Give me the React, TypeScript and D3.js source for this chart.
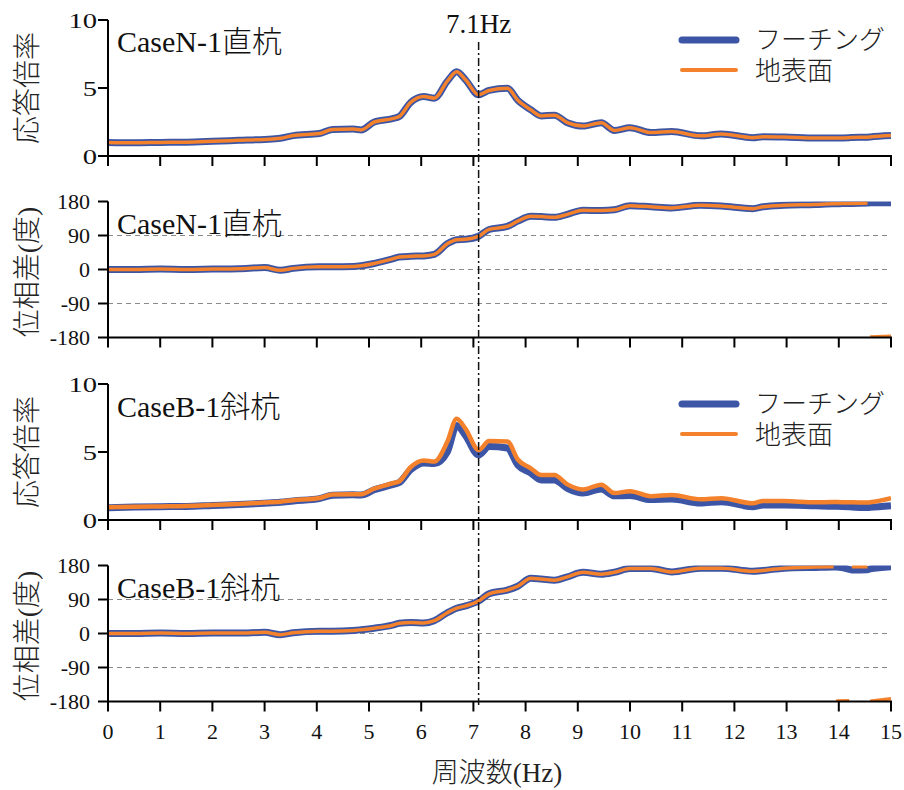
import React from "react";
import * as d3 from "d3";

// ---------- data ----------
const freq = [0, 0.5, 1, 1.5, 2, 2.5, 3, 3.3, 3.55, 4.05, 4.3, 4.7, 4.85, 5.1, 5.45, 5.58, 5.8, 6.05, 6.25, 6.5, 6.68, 6.85, 7.1, 7.3, 7.65, 7.85, 8.1, 8.3, 8.55, 8.8, 9.1, 9.45, 9.7, 10.0, 10.4, 10.8, 11.35, 11.75, 12.35, 12.55, 12.95, 13.55, 13.9, 13.95, 14.2, 14.25, 14.55, 14.6, 15];

const ampN_footing = [1.0, 0.97, 1.0, 1.02, 1.08, 1.15, 1.22, 1.3, 1.5, 1.65, 1.95, 1.98, 1.92, 2.5, 2.75, 2.9, 3.95, 4.38, 4.25, 5.5, 6.2, 5.6, 4.5, 4.82, 4.98, 4.1, 3.4, 2.95, 3.0, 2.45, 2.2, 2.45, 1.88, 2.08, 1.72, 1.8, 1.48, 1.62, 1.35, 1.42, 1.4, 1.32, 1.33, 1.33, 1.35, 1.36, 1.38, 1.4, 1.5];
const ampN_ground = [1.0, 0.97, 1.0, 1.02, 1.08, 1.15, 1.22, 1.3, 1.5, 1.65, 1.95, 1.98, 1.92, 2.5, 2.75, 2.9, 3.95, 4.38, 4.25, 5.5, 6.2, 5.6, 4.5, 4.82, 4.98, 4.1, 3.4, 2.95, 3.0, 2.45, 2.2, 2.45, 1.88, 2.08, 1.72, 1.8, 1.48, 1.62, 1.35, 1.42, 1.4, 1.32, 1.33, 1.33, 1.35, 1.36, 1.38, 1.4, 1.5];

const phaseN_footing = [0, 0, 1, 0, 1, 2, 5, -2, 3, 7, 7, 8, 10, 16, 28, 33, 35, 36, 40, 68, 79, 80, 88, 106, 114, 128, 141, 140, 138, 146, 157, 156, 158, 169, 166, 163, 170, 168, 161, 166, 170, 172, 174, 174, 175, 175, 176, 176.5, 177];
const phaseN_ground = [0, 0, 1, 0, 1, 2, 5, -2, 3, 7, 7, 8, 10, 16, 28, 33, 35, 36, 40, 68, 79, 80, 88, 106, 114, 128, 141, 140, 138, 146, 157, 156, 158, 169, 166, 163, 170, 168, 161, 166, 170, 172, 174, 174, 175, 175, 176, -179, -177];

const ampB_footing = [0.9, 0.95, 0.98, 1.0, 1.07, 1.14, 1.23, 1.3, 1.4, 1.57, 1.82, 1.85, 1.84, 2.22, 2.6, 2.75, 3.7, 4.2, 4.15, 5.0, 6.95, 6.2, 4.78, 5.4, 5.3, 4.05, 3.45, 2.95, 2.95, 2.33, 1.98, 2.28, 1.78, 1.8, 1.5, 1.55, 1.25, 1.35, 0.98, 1.1, 1.1, 1.05, 1.02, 1.02, 0.98, 0.96, 0.92, 0.93, 1.05];
const ampB_ground = [0.93, 0.97, 1.0, 1.03, 1.1, 1.18, 1.28, 1.35, 1.45, 1.62, 1.88, 1.9, 1.9, 2.3, 2.7, 2.85, 3.9, 4.38, 4.3, 5.75, 7.45, 6.7, 5.15, 5.8, 5.78, 4.45, 3.8, 3.3, 3.3, 2.62, 2.25, 2.6, 1.98, 2.12, 1.75, 1.84, 1.52, 1.6, 1.23, 1.4, 1.4, 1.3, 1.32, 1.32, 1.3, 1.3, 1.28, 1.3, 1.6];

const phaseB_footing = [0, 0, 1, 0, 1, 1, 3, -3, 2, 6, 6, 8, 10, 14, 22, 27, 29, 28, 34, 55, 67, 73, 86, 105, 115, 125, 146, 144, 141, 150, 162, 157, 162, 172, 172, 163, 173, 173, 165, 167, 173, 175, 176, 176, 170, 168, 169, 171, 177];
const phaseB_ground = [0, 0, 1, 0, 1, 1, 3, -3, 2, 6, 6, 8, 10, 14, 22, 27, 29, 28, 34, 55, 67, 73, 86, 105, 115, 125, 146, 144, 141, 150, 162, 157, 162, 172, 172, 163, 173, 173, 165, 167, 173, 176, 177, -179, -178, 177, 177, -179, -173];

const xTicks = d3.range(0, 16);
const ampTicks = [0, 5, 10];
const phaseTicks = [-180, -90, 0, 90, 180];
const phaseGrid = [-90, 0, 90];
const seriesNames = ["フーチング", "地表面"];
const caseLabels = ["CaseN-1直杭", "CaseB-1斜杭"];
const ampTitle = "応答倍率";
const phaseTitle = "位相差(度)";
const xTitle = "周波数(Hz)";
const markFreq = 7.1;
const markLabel = "7.1Hz";

// ---------- style ----------
const BLUE = "#3c55a5";
const ORANGE = "#f4822c";
const FONT = "'Liberation Serif', 'Noto Sans CJK JP', serif";

const x = d3.scaleLinear().domain([0, 15]).range([108, 891]);

type Panel = {
  key: string;
  kind: "amp" | "phase";
  top: number;
  bottom: number;
  footing: number[];
  ground: number[];
  label: string;
  labelY: number;
  legend: boolean;
  titleY: number;
  xLabels: boolean;
};

const panels: Panel[] = [
  { key: "p1", kind: "amp", top: 20, bottom: 156, footing: ampN_footing, ground: ampN_ground, label: caseLabels[0], labelY: 52, legend: true, titleY: 88, xLabels: false },
  { key: "p2", kind: "phase", top: 201.5, bottom: 337.5, footing: phaseN_footing, ground: phaseN_ground, label: caseLabels[0], labelY: 234, legend: false, titleY: 272, xLabels: false },
  { key: "p3", kind: "amp", top: 384, bottom: 520, footing: ampB_footing, ground: ampB_ground, label: caseLabels[1], labelY: 417, legend: true, titleY: 452, xLabels: false },
  { key: "p4", kind: "phase", top: 565.5, bottom: 701.5, footing: phaseB_footing, ground: phaseB_ground, label: caseLabels[1], labelY: 598, legend: false, titleY: 636, xLabels: true },
];

function segments(vals: number[]): [number, number][][] {
  const segs: [number, number][][] = [];
  let cur: [number, number][] = [];
  vals.forEach((v, i) => {
    if (i > 0 && Math.abs(v - vals[i - 1]) > 180) {
      segs.push(cur);
      cur = [];
    }
    cur.push([freq[i], v]);
  });
  if (cur.length) segs.push(cur);
  return segs;
}

function PanelView({ p }: { p: Panel }) {
  const y =
    p.kind === "amp"
      ? d3.scaleLinear().domain([0, 10]).range([p.bottom, p.top])
      : d3.scaleLinear().domain([-180, 180]).range([p.bottom, p.top]);
  const line = d3
    .line<[number, number]>()
    .x((d) => x(d[0]))
    .y((d) => y(d[1]))
    .curve(d3.curveMonotoneX);
  const ticks = p.kind === "amp" ? ampTicks : phaseTicks;
  const clipId = "clip-" + p.key;
  const isAmp = p.kind === "amp";
  return (
    <g>
      <defs>
        <clipPath id={clipId}>
          <rect x={x(0)} y={p.top} width={x(15) - x(0)} height={p.bottom - p.top} />
        </clipPath>
      </defs>
      {p.kind === "phase" &&
        phaseGrid.map((g) => (
          <line key={g} x1={x(0)} x2={x(15)} y1={y(g)} y2={y(g)} stroke="#8a8a8a" strokeWidth={1.2} strokeDasharray="5,4" />
        ))}
      <g clipPath={`url(#${clipId})`}>
        {segments(p.footing).map((s, i) => (
          <path key={"f" + i} d={line(s) || ""} fill="none" stroke={BLUE} strokeWidth={7} strokeLinejoin="round" strokeLinecap="butt" />
        ))}
        {segments(p.ground).map((s, i) => (
          <path key={"g" + i} d={line(s) || ""} fill="none" stroke={ORANGE} strokeWidth={p.key === "p3" ? 4.5 : 3.5} strokeLinejoin="round" strokeLinecap="butt" />
        ))}
      </g>
      {/* axes */}
      <line x1={x(0)} x2={x(0)} y1={p.top} y2={p.bottom} stroke="#000" strokeWidth={2} />
      <line x1={x(0) - 1} x2={x(15) + 1} y1={p.bottom} y2={p.bottom} stroke="#000" strokeWidth={2} />
      {xTicks.map((t) => (
        <line key={"xt" + t} x1={x(t)} x2={x(t)} y1={p.bottom} y2={p.bottom + 10} stroke="#000" strokeWidth={2} />
      ))}
      {p.xLabels &&
        xTicks.map((t) => (
          <text key={"xl" + t} x={x(t)} y={p.bottom + 37} textAnchor="middle" fontSize={22} fontFamily={FONT} fill="#111">
            {t}
          </text>
        ))}
      {ticks.map((t) => (
        <line key={"yt" + t} x1={x(0) - 10} x2={x(0)} y1={y(t)} y2={y(t)} stroke="#000" strokeWidth={2} />
      ))}
      {ticks.map((t) =>
        isAmp ? (
          <text
            key={"yl" + t}
            transform={`translate(97,${y(t)}) scale(1.3,1)`}
            dy="0.35em"
            textAnchor="end"
            fontSize={22}
            fontFamily={FONT}
            fill="#111"
          >
            {t}
          </text>
        ) : (
          <text key={"yl" + t} x={90} y={y(t)} dy="0.35em" textAnchor="end" fontSize={22} fontFamily={FONT} fill="#111">
            {t}
          </text>
        )
      )}
      <text x={117} y={p.labelY} fontSize={30} fontWeight={300} fontFamily={FONT} fill="#111">
        {p.label}
      </text>
      <text
        transform={`translate(27,${p.titleY}) rotate(-90)`}
        textAnchor="middle"
        dominantBaseline="central"
        fontSize={28}
        fontWeight={300}
        fontFamily={FONT}
        fill="#222"
      >
        {isAmp ? ampTitle : phaseTitle}
      </text>
      {p.legend && (
        <g>
          <line x1={682} x2={736} y1={p.top + 20} y2={p.top + 20} stroke={BLUE} strokeWidth={7} strokeLinecap="round" />
          <line x1={682} x2={736} y1={p.top + 50} y2={p.top + 50} stroke={ORANGE} strokeWidth={4} strokeLinecap="round" />
          <text x={755} y={p.top + 20} dominantBaseline="central" fontSize={26} fontWeight={300} fontFamily={FONT} fill="#222">
            {seriesNames[0]}
          </text>
          <text x={755} y={p.top + 51} dominantBaseline="central" fontSize={26} fontWeight={300} fontFamily={FONT} fill="#222">
            {seriesNames[1]}
          </text>
        </g>
      )}
    </g>
  );
}

export default function App() {
  return (
    <svg width={904} height={790} style={{ position: "absolute", left: 0, top: 0, background: "#fff" }}>
      <rect width={904} height={790} fill="#fff" />
      {panels.map((p) => (
        <PanelView key={p.key} p={p} />
      ))}
      <line
        x1={x(markFreq)}
        x2={x(markFreq)}
        y1={42}
        y2={705}
        stroke="#111"
        strokeWidth={1.5}
        strokeDasharray="8,3,2,3"
      />
      <text x={x(markFreq)} y={33} textAnchor="middle" fontSize={27} fontFamily={FONT} fill="#111">
        {markLabel}
      </text>
      <text x={497} y={782} textAnchor="middle" fontSize={27} fontWeight={300} fontFamily={FONT} fill="#222">
        {xTitle}
      </text>
    </svg>
  );
}
